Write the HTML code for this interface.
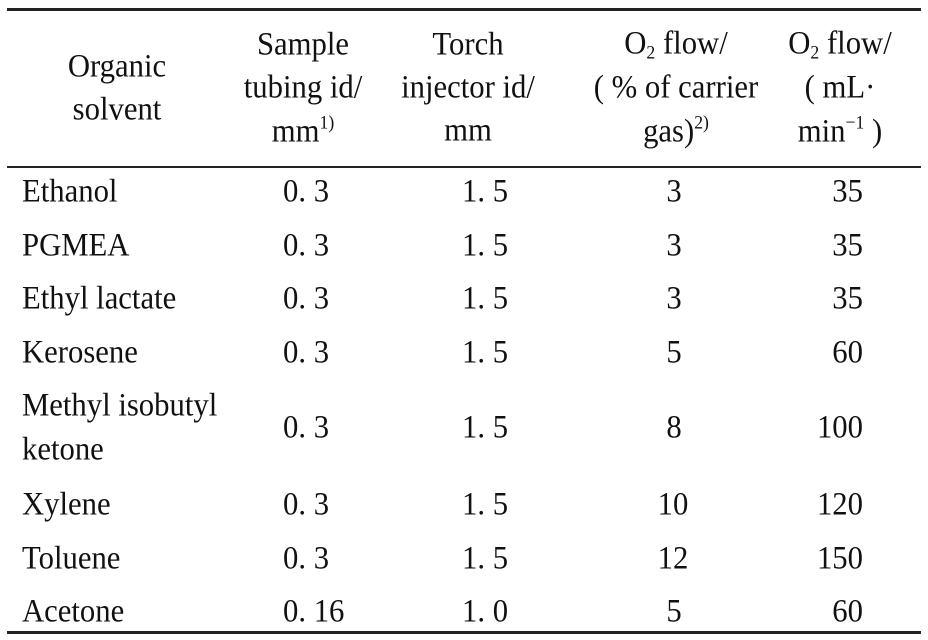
<!DOCTYPE html>
<html><head><meta charset="utf-8"><style>
html,body{margin:0;padding:0;background:#fff;}
body{width:928px;height:640px;position:relative;overflow:hidden;font-family:"Liberation Serif","Noto Serif CJK SC",serif;font-size:33px;color:#111;}
.t{position:absolute;white-space:nowrap;line-height:1;}
.c{transform:translate(-50%,-50%) scaleX(.93);}
.l{transform:translate(0,-50%) scaleX(.93);transform-origin:left center;}
.r{transform:translate(-100%,-50%) scaleX(.93);transform-origin:right center;}
.line{position:absolute;left:7px;width:914px;background:#222;}
sup,sub{font-size:19px;}
sub{vertical-align:-5px;}
sup{vertical-align:13px;}
</style></head><body>
<div class="line" style="top:8px;height:3px"></div>
<div class="line" style="top:166px;height:2px"></div>
<div class="line" style="top:631px;height:3px"></div>

<div class="t c" style="left:117px;top:67px">Organic</div>
<div class="t c" style="left:117px;top:110px">solvent</div>
<div class="t c" style="left:303px;top:45px">Sample</div>
<div class="t c" style="left:303px;top:88px">tubing id/</div>
<div class="t c" style="left:303px;top:131px">mm<sup>1)</sup></div>
<div class="t c" style="left:468px;top:45px">Torch</div>
<div class="t c" style="left:468px;top:88px">injector id/</div>
<div class="t c" style="left:468px;top:131px">mm</div>
<div class="t c" style="left:676px;top:45px">O<sub>2</sub> flow/</div>
<div class="t c" style="left:676px;top:88px">( % of carrier</div>
<div class="t c" style="left:676px;top:131px">gas)<sup>2)</sup></div>
<div class="t c" style="left:840px;top:45px">O<sub>2</sub> flow/</div>
<div class="t c" style="left:840px;top:88px">( mL·</div>
<div class="t c" style="left:840px;top:131px">min<sup>−1</sup> )</div>

<div class="t l" style="left:22px;top:192px">Ethanol</div>
<div class="t l" style="left:22px;top:246px">PGMEA</div>
<div class="t l" style="left:22px;top:299px">Ethyl lactate</div>
<div class="t l" style="left:22px;top:353px">Kerosene</div>
<div class="t l" style="left:22px;top:406px">Methyl isobutyl</div>
<div class="t l" style="left:22px;top:450px">ketone</div>
<div class="t l" style="left:22px;top:505px">Xylene</div>
<div class="t l" style="left:22px;top:559px">Toluene</div>
<div class="t l" style="left:22px;top:612px">Acetone</div>

<div class="t l" style="left:283px;top:192px">0. 3</div>
<div class="t l" style="left:283px;top:246px">0. 3</div>
<div class="t l" style="left:283px;top:299px">0. 3</div>
<div class="t l" style="left:283px;top:353px">0. 3</div>
<div class="t l" style="left:283px;top:428px">0. 3</div>
<div class="t l" style="left:283px;top:505px">0. 3</div>
<div class="t l" style="left:283px;top:559px">0. 3</div>
<div class="t l" style="left:283px;top:612px">0. 16</div>

<div class="t l" style="left:462px;top:192px">1. 5</div>
<div class="t l" style="left:462px;top:246px">1. 5</div>
<div class="t l" style="left:462px;top:299px">1. 5</div>
<div class="t l" style="left:462px;top:353px">1. 5</div>
<div class="t l" style="left:462px;top:428px">1. 5</div>
<div class="t l" style="left:462px;top:505px">1. 5</div>
<div class="t l" style="left:462px;top:559px">1. 5</div>
<div class="t l" style="left:462px;top:612px">1. 0</div>

<div class="t c" style="left:674px;top:192px">3</div>
<div class="t c" style="left:674px;top:246px">3</div>
<div class="t c" style="left:674px;top:299px">3</div>
<div class="t c" style="left:674px;top:353px">5</div>
<div class="t c" style="left:674px;top:428px">8</div>
<div class="t c" style="left:673px;top:505px">10</div>
<div class="t c" style="left:673px;top:559px">12</div>
<div class="t c" style="left:674px;top:612px">5</div>

<div class="t r" style="left:863px;top:192px">35</div>
<div class="t r" style="left:863px;top:246px">35</div>
<div class="t r" style="left:863px;top:299px">35</div>
<div class="t r" style="left:863px;top:353px">60</div>
<div class="t r" style="left:863px;top:428px">100</div>
<div class="t r" style="left:863px;top:505px">120</div>
<div class="t r" style="left:863px;top:559px">150</div>
<div class="t r" style="left:863px;top:612px">60</div>
</body></html>
